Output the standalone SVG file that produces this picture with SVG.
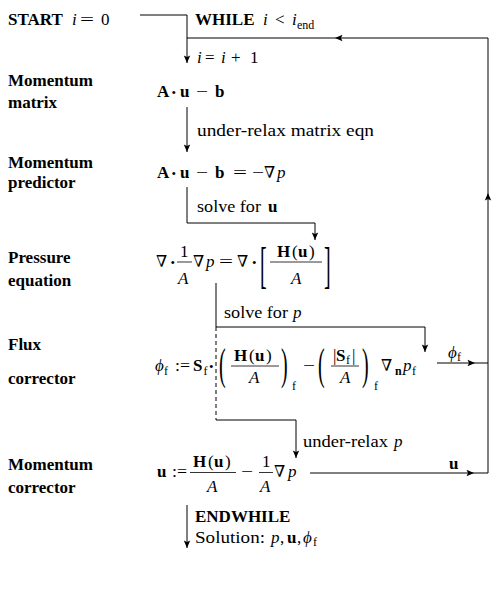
<svg xmlns="http://www.w3.org/2000/svg" width="500" height="600" viewBox="0 0 500 600">
<defs>
<style>
text{font-family:"Liberation Serif","DejaVu Serif",serif;font-size:17px;fill:#000}
.b{font-weight:bold}
.i{font-style:italic}
.s{font-size:12px}
.d{font-size:13px}
.nb{font-family:"DejaVu Serif",serif;font-size:16px}
.c{fill:none;stroke:#000;stroke-width:1}
.dash{stroke-dasharray:4 3}
.fb{stroke:#000;stroke-width:0.8}
.big{font-size:20px}
</style>
<marker id="ah" viewBox="-8 -4 9 8" refX="0" refY="0" markerWidth="9" markerHeight="8" markerUnits="userSpaceOnUse" orient="auto">
<path d="M-7.5,-3.2 L0,0 L-7.5,3.2 L-6,0 z" fill="#000"/>
</marker>
</defs>
<rect width="500" height="600" fill="#fff"/>

<g id="connectors">
<path class="c" d="M140,15 H187 V63" marker-end="url(#ah)"/>
<path class="c" d="M187,107 V152" marker-end="url(#ah)"/>
<path class="c" d="M187,187 V223 H315 V240" marker-end="url(#ah)"/>
<path class="c" d="M216,283 V327 H425 V352" marker-end="url(#ah)"/>
<path class="c dash" d="M216,327 V420"/>
<path class="c" d="M216,420 H296 V458" marker-end="url(#ah)"/>
<path class="c" d="M437,363 H475" marker-end="url(#ah)"/>
<path class="c" d="M475,363 H488"/>
<path class="c" d="M310,473 H474" marker-end="url(#ah)"/>
<path class="c" d="M474,473 H488 V193" marker-end="url(#ah)"/>
<path class="c" d="M488,193 V38 H335" marker-end="url(#ah)"/>
<path class="c" d="M335,38 H187"/>
<path class="c" d="M187,505 V548" marker-end="url(#ah)"/>
</g>

<g id="edge-labels">
<text y="63"><tspan x="197" class="i">i</tspan><tspan x="205">=</tspan><tspan x="221" class="i">i</tspan><tspan x="231">+</tspan><tspan x="250">1</tspan></text>
<text x="197" y="136" textLength="177" lengthAdjust="spacingAndGlyphs">under-relax matrix eqn</text>
<text x="197" y="212" textLength="64" lengthAdjust="spacingAndGlyphs">solve for</text>
<text x="268" y="212" class="b">u</text>
<text x="224" y="318" textLength="64" lengthAdjust="spacingAndGlyphs">solve for</text>
<text x="293" y="318" class="i">p</text>
<text x="303" y="447" textLength="85" lengthAdjust="spacingAndGlyphs">under-relax</text>
<text x="394" y="447" class="i">p</text>
<text x="448" y="358" class="i">ϕ</text><text x="457" y="361" class="s">f</text>
<text x="449" y="469" class="b">u</text>
</g>

<g id="start">
<text x="8" y="25" class="b">START</text>
<text x="72" y="25" class="i">i</text>
<text x="80" y="25" textLength="14" lengthAdjust="spacingAndGlyphs">=</text>
<text x="101" y="25">0</text>
</g>

<g id="while">
<text x="195" y="25" class="b">WHILE</text>
<text x="263" y="25" class="i">i</text>
<text x="275" y="25">&lt;</text>
<text x="292" y="25" class="i">i</text>
<text x="297" y="29" class="s">end</text>
</g>

<g id="momentum-matrix">
<text x="8" y="86" class="b">Momentum</text>
<text x="8" y="108" class="b">matrix</text>
<text x="157" y="97" class="b">A</text>
<text x="171.5" y="96.5" class="d">•</text>
<text x="180" y="97" class="b">u</text>
<text x="196" y="97" textLength="12" lengthAdjust="spacingAndGlyphs">−</text>
<text x="215" y="97" class="b">b</text>
</g>

<g id="momentum-predictor">
<text x="8" y="168" class="b">Momentum</text>
<text x="8" y="188" class="b">predictor</text>
<text x="157" y="178" class="b">A</text>
<text x="171.5" y="177.5" class="d">•</text>
<text x="180" y="178" class="b">u</text>
<text x="196" y="178" textLength="12" lengthAdjust="spacingAndGlyphs">−</text>
<text x="215" y="178" class="b">b</text>
<text x="233" y="178" textLength="14" lengthAdjust="spacingAndGlyphs">=</text>
<text x="252" y="178" textLength="12" lengthAdjust="spacingAndGlyphs">−</text>
<text x="264" y="178" class="nb">∇</text>
<text x="277" y="178" class="i">p</text>
</g>

<g id="pressure-equation">
<text x="8" y="263" class="b">Pressure</text>
<text x="8" y="286" class="b">equation</text>
<text x="156" y="267" class="nb">∇</text>
<text x="170.5" y="266.5" class="d">•</text>
<text x="180" y="257">1</text>
<line class="fb" x1="177" y1="262" x2="192" y2="262"/>
<text x="178" y="284" class="i">A</text>
<text x="193" y="267" class="nb">∇</text>
<text x="206" y="267" class="i">p</text>
<text x="219" y="267" textLength="14" lengthAdjust="spacingAndGlyphs">=</text>
<text x="237" y="267" class="nb">∇</text>
<text x="252" y="266.5" class="d">•</text>
<text class="big" transform="translate(260,282) scale(1,2.55)">[</text>
<text y="257"><tspan x="277" class="b">H</tspan><tspan x="292">(</tspan><tspan x="298" class="b">u</tspan><tspan x="309">)</tspan></text>
<line class="fb" x1="270" y1="262" x2="322" y2="262"/>
<text x="291" y="284" class="i">A</text>
<text class="big" transform="translate(324,282) scale(1,2.55)">]</text>
</g>

<g id="flux-corrector">
<text x="8" y="350" class="b">Flux</text>
<text x="8" y="384" class="b">corrector</text>
<text x="155" y="371" class="i">ϕ</text>
<text x="164" y="375" class="s">f</text>
<text x="175" y="371" textLength="15" lengthAdjust="spacingAndGlyphs">:=</text>
<text x="193" y="371" class="b">S</text>
<text x="203.5" y="375" class="s">f</text>
<text x="209" y="370.5" class="d">•</text>
<text class="big" transform="translate(219,379) scale(1,2.2)">(</text>
<text y="361"><tspan x="234" class="b">H</tspan><tspan x="249">(</tspan><tspan x="255" class="b">u</tspan><tspan x="266">)</tspan></text>
<line class="fb" x1="231" y1="366" x2="279" y2="366"/>
<text x="249" y="383" class="i">A</text>
<text class="big" transform="translate(281,379) scale(1,2.2)">)</text>
<text x="292" y="390" class="s">f</text>
<text x="303" y="371" textLength="12" lengthAdjust="spacingAndGlyphs">−</text>
<text class="big" transform="translate(318,379) scale(1,2.2)">(</text>
<text x="333" y="361">|</text>
<text x="336" y="361" class="b">S</text>
<text x="346" y="364" class="s">f</text>
<text x="352" y="361">|</text>
<line class="fb" x1="331" y1="366" x2="359" y2="366"/>
<text x="340" y="383" class="i">A</text>
<text class="big" transform="translate(362,379) scale(1,2.2)">)</text>
<text x="374" y="390" class="s">f</text>
<text x="381" y="371" class="nb">∇</text>
<text x="395" y="375" class="s b">n</text>
<text x="403" y="371" class="i">p</text>
<text x="412" y="375" class="s">f</text>
</g>

<g id="momentum-corrector">
<text x="8" y="470" class="b">Momentum</text>
<text x="8" y="493" class="b">corrector</text>
<text x="157" y="477" class="b">u</text>
<text x="172" y="477" textLength="15" lengthAdjust="spacingAndGlyphs">:=</text>
<text y="467"><tspan x="193" class="b">H</tspan><tspan x="208">(</tspan><tspan x="214" class="b">u</tspan><tspan x="225">)</tspan></text>
<line class="fb" x1="190" y1="472.5" x2="236" y2="472.5"/>
<text x="207" y="492" class="i">A</text>
<text x="241" y="477" textLength="12" lengthAdjust="spacingAndGlyphs">−</text>
<text x="262" y="467">1</text>
<line class="fb" x1="259" y1="472.5" x2="273" y2="472.5"/>
<text x="260" y="492" class="i">A</text>
<text x="274" y="477" class="nb">∇</text>
<text x="288" y="477" class="i">p</text>
</g>

<g id="endwhile">
<text x="195" y="522" class="b">ENDWHILE</text>
<text x="195" y="543" textLength="70" lengthAdjust="spacingAndGlyphs">Solution:</text>
<text x="271" y="543" class="i">p</text>
<text x="280" y="543">,</text>
<text x="287" y="543" class="b">u</text>
<text x="297" y="543">,</text>
<text x="303" y="543" class="i">ϕ</text>
<text x="313" y="546" class="s">f</text>
</g>
</svg>
